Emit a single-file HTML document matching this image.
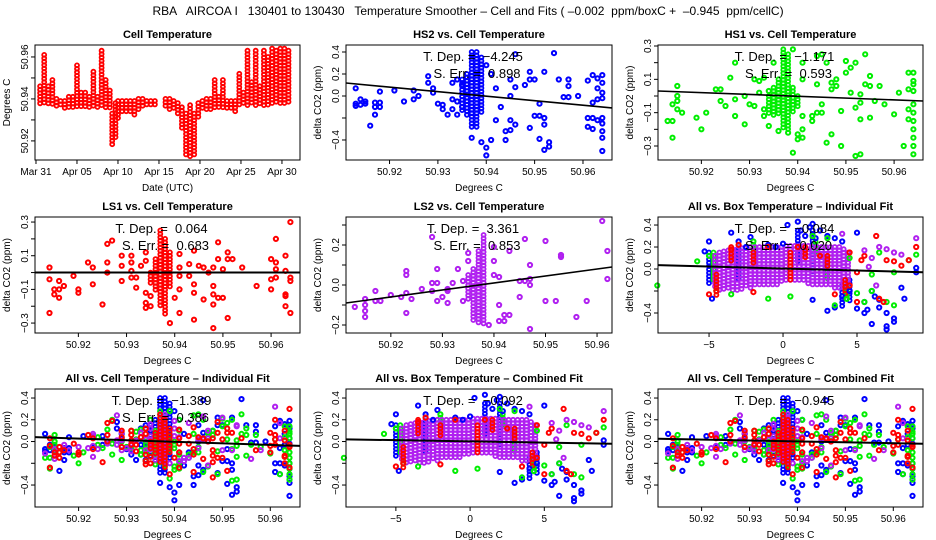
<!DOCTYPE html>
<html><head><meta charset="utf-8"><title>RBA AIRCOA Temperature Smoother</title>
<style>
html,body{margin:0;padding:0;background:#fff;}
svg{display:block;font-family:"Liberation Sans",Arial,sans-serif;}
</style></head>
<body>
<svg id="chart" width="936" height="540" viewBox="0 0 936 540" xmlns="http://www.w3.org/2000/svg">
<rect x="0" y="0" width="936" height="540" fill="#fff"/>
<text x="468" y="15" font-size="12" text-anchor="middle" style="white-space:pre" xml:space="preserve">RBA   AIRCOA I   130401 to 130430   Temperature Smoother – Cell and Fits ( –0.002  ppm/boxC +  –0.945  ppm/cellC)</text>
</svg>
<script>
// ---------- data ----------
const tsDay=[0.5,1.0,1.5,2.0,2.5,3.0,3.5,4.0,4.5,5.0,5.5,6.0,6.5,7.0,7.5,8.0,8.5,9.0,9.3,9.7,10.0,10.5,11.0,11.5,12.0,12.5,13.0,13.5,14.0,14.5,15.8,16.3,16.8,17.3,17.8,18.3,18.8,19.3,19.8,20.3,20.8,21.3,21.8,22.3,22.8,23.3,23.8,24.3,24.8,25.3,25.8,26.3,26.8,27.3,27.8,28.3,28.8,29.3,29.8,30.3,30.8];
const tsLow=[50.937,50.937,50.937,50.937,50.936,50.936,50.935,50.936,50.936,50.936,50.936,50.936,50.936,50.936,50.936,50.937,50.936,50.935,50.918,50.921,50.930,50.933,50.934,50.933,50.931,50.934,50.936,50.936,50.936,50.936,50.936,50.935,50.935,50.933,50.926,50.913,50.912,50.912,50.930,50.935,50.935,50.935,50.935,50.936,50.936,50.935,50.935,50.934,50.936,50.937,50.937,50.937,50.937,50.937,50.937,50.937,50.938,50.938,50.937,50.937,50.938];
const tsHigh=[50.946,50.961,50.946,50.949,50.940,50.939,50.939,50.941,50.941,50.956,50.943,50.943,50.941,50.953,50.941,50.963,50.949,50.944,50.933,50.938,50.939,50.939,50.939,50.939,50.939,50.940,50.940,50.939,50.939,50.939,50.940,50.940,50.939,50.938,50.936,50.933,50.937,50.933,50.938,50.939,50.940,50.940,50.949,50.941,50.949,50.939,50.939,50.939,50.952,50.943,50.963,50.948,50.963,50.946,50.963,50.960,50.964,50.963,50.964,50.964,50.963];
const tsDateTicks=["Mar 31","Apr 05","Apr 10","Apr 15","Apr 20","Apr 25","Apr 30"];

const hs2T=[50.913,50.913,50.913,50.914,50.914,50.915,50.915,50.916,50.917,50.917,50.917,50.918,50.918,50.918,50.921,50.923,50.925,50.925,50.926,50.928,50.928,50.929,50.929,50.930,50.931,50.931,50.932,50.933,50.933,50.933,50.934,50.934,50.934,50.935,50.935,50.937,50.939,50.940,50.940,50.940,50.941,50.941,50.942,50.942,50.943,50.944,50.944,50.945,50.945,50.945,50.945,50.946,50.946,50.946,50.948,50.949,50.949,50.949,50.950,50.950,50.951,50.951,50.951,50.952,50.952,50.952,50.952,50.953,50.953,50.954,50.955,50.956,50.957,50.957,50.957,50.959,50.961,50.961,50.961,50.962,50.962,50.962,50.962,50.963,50.963,50.963,50.963,50.964,50.964,50.964,50.964,50.964,50.964,50.964,50.964,50.964];
const hs2Y=[0.07,-0.09,-0.07,-0.08,-0.03,-0.05,-0.07,-0.27,-0.10,-0.17,-0.06,-0.06,-0.10,0.04,0.05,-0.05,0.05,-0.03,0.00,0.18,0.12,0.03,0.07,-0.07,-0.08,-0.12,-0.17,-0.12,-0.03,0.12,0.15,-0.05,-0.17,0.10,-0.10,-0.38,-0.42,-0.47,-0.54,0.28,-0.40,0.20,0.07,-0.22,-0.10,-0.32,-0.40,0.00,0.15,-0.22,-0.31,0.38,0.08,-0.26,0.10,0.22,0.15,-0.29,0.15,-0.18,-0.07,-0.18,-0.39,-0.20,-0.26,0.22,-0.49,-0.42,-0.46,0.39,0.15,-0.01,0.15,0.09,-0.01,0.00,0.14,-0.20,-0.28,0.19,-0.06,-0.20,-0.30,0.16,0.07,-0.03,-0.22,0.19,0.12,0.03,-0.02,-0.20,-0.25,-0.32,-0.38,-0.50];
const hs2ColT=[50.935,50.936,50.937,50.938,50.939];
const hs2ColLo=[-0.15,-0.20,-0.30,-0.30,-0.15];
const hs2ColHi=[0.15,0.20,0.40,0.40,0.35];

const hs1T=[50.913,50.914,50.914,50.914,50.915,50.915,50.915,50.915,50.916,50.919,50.920,50.921,50.923,50.924,50.924,50.925,50.926,50.927,50.927,50.927,50.929,50.929,50.930,50.931,50.931,50.932,50.932,50.933,50.933,50.933,50.934,50.934,50.935,50.936,50.938,50.939,50.939,50.940,50.940,50.941,50.941,50.941,50.941,50.941,50.943,50.943,50.944,50.944,50.944,50.945,50.945,50.945,50.946,50.946,50.947,50.947,50.947,50.948,50.948,50.949,50.949,50.950,50.950,50.951,50.951,50.952,50.952,50.952,50.953,50.953,50.953,50.953,50.954,50.954,50.955,50.955,50.955,50.956,50.957,50.958,50.960,50.961,50.962,50.963,50.963,50.963,50.963,50.964,50.964,50.964,50.964,50.964,50.964,50.964,50.964,50.964,50.964,50.964];
const hs1Y=[-0.15,-0.15,-0.25,-0.05,0.06,0.00,-0.03,-0.08,-0.10,-0.13,-0.20,-0.10,0.04,0.04,-0.03,-0.06,0.11,0.20,-0.02,-0.12,-0.17,0.00,-0.05,0.10,-0.06,0.09,0.02,0.11,-0.08,-0.12,0.03,-0.18,0.20,-0.21,-0.22,-0.34,0.28,-0.23,-0.26,0.20,0.10,-0.20,-0.25,-0.12,-0.12,-0.15,0.24,0.07,-0.10,0.25,-0.10,-0.05,0.20,-0.28,0.08,0.04,-0.23,0.10,0.06,-0.09,-0.30,0.21,0.14,0.17,0.02,0.20,-0.07,-0.36,0.01,-0.04,-0.14,-0.35,0.25,0.07,0.12,0.06,-0.13,-0.03,0.06,-0.05,-0.11,0.02,-0.30,0.14,0.04,-0.14,-0.08,0.14,0.09,0.07,0.03,-0.05,-0.10,-0.15,-0.20,-0.25,-0.30,-0.35];
const hs1ColT=[50.934,50.935,50.936,50.937,50.938,50.939,50.940];
const hs1ColLo=[-0.12,-0.13,-0.12,-0.20,-0.20,-0.10,-0.08];
const hs1ColHi=[0.00,0.05,0.10,0.28,0.25,0.05,0.00];

const ls1T=[50.914,50.914,50.914,50.915,50.915,50.916,50.916,50.916,50.917,50.919,50.920,50.920,50.922,50.923,50.923,50.925,50.926,50.926,50.926,50.927,50.929,50.929,50.929,50.931,50.931,50.931,50.931,50.932,50.932,50.933,50.934,50.934,50.934,50.934,50.934,50.935,50.935,50.939,50.940,50.941,50.941,50.941,50.941,50.941,50.943,50.943,50.944,50.944,50.944,50.944,50.945,50.946,50.946,50.947,50.948,50.948,50.948,50.948,50.948,50.949,50.949,50.949,50.950,50.950,50.951,50.951,50.951,50.952,50.954,50.957,50.960,50.960,50.960,50.961,50.961,50.961,50.961,50.963,50.963,50.963,50.963,50.963,50.964,50.964,50.964,50.964];
const ls1Y=[0.03,-0.04,-0.24,-0.10,-0.13,-0.05,-0.10,-0.15,-0.08,-0.02,-0.10,-0.12,0.06,0.03,-0.07,-0.19,0.17,0.06,0.00,0.19,0.10,0.04,-0.05,0.10,0.06,0.01,-0.03,-0.03,-0.09,0.04,0.12,0.07,-0.12,-0.18,-0.21,-0.14,-0.20,-0.30,-0.15,0.11,0.03,-0.02,-0.10,-0.24,0.05,-0.02,0.13,-0.07,-0.12,-0.28,0.04,0.03,-0.16,0.00,0.03,-0.08,-0.13,-0.19,-0.33,0.18,0.08,-0.15,0.02,-0.15,0.12,0.08,-0.27,0.08,0.03,-0.08,0.08,-0.04,-0.10,0.20,0.06,0.02,-0.03,0.10,0.01,-0.13,-0.14,-0.20,0.30,-0.03,-0.05,-0.24];
const ls1ColT=[50.935,50.936,50.937,50.938,50.939];
const ls1ColLo=[-0.08,-0.12,-0.20,-0.25,-0.10];
const ls1ColHi=[0.00,0.08,0.25,0.20,0.12];

const ls2T=[50.913,50.915,50.915,50.915,50.915,50.917,50.917,50.918,50.920,50.922,50.923,50.923,50.923,50.923,50.924,50.926,50.928,50.928,50.928,50.929,50.929,50.929,50.930,50.931,50.931,50.931,50.932,50.933,50.934,50.934,50.935,50.935,50.939,50.940,50.940,50.940,50.941,50.941,50.941,50.942,50.942,50.943,50.943,50.945,50.945,50.946,50.946,50.947,50.947,50.947,50.947,50.950,50.950,50.952,50.953,50.953,50.956,50.958,50.961,50.962,50.962];
const ls2Y=[-0.11,-0.07,-0.10,-0.13,-0.16,-0.03,-0.08,-0.08,-0.05,-0.06,0.07,0.05,-0.04,-0.14,-0.07,-0.02,0.24,0.01,-0.03,0.08,0.01,-0.08,-0.06,-0.02,-0.03,-0.09,0.01,0.08,0.02,-0.08,0.16,0.12,-0.20,0.19,0.12,0.05,0.04,-0.18,-0.10,-0.15,-0.18,0.17,-0.15,0.02,-0.06,0.23,0.02,0.10,0.03,0.00,-0.22,0.22,-0.08,-0.08,0.15,0.14,-0.16,-0.08,0.32,0.17,0.03];
const ls2ColT=[50.935,50.936,50.937,50.938];
const ls2ColLo=[-0.08,-0.18,-0.20,-0.20];
const ls2ColHi=[0.05,0.08,0.17,0.25];

const boxBlueX=[-5.3,-5.0,-4.8,-3.5,-3.0,-2.5,-2.2,-1.0,-0.5,0.0,0.3,1.0,1.2,1.5,1.8,2.0,2.2,2.5,3.0,3.5,4.0,5.0,2.0,3.5,4.0,4.5,5.0,5.5,5.7,6.0,6.0,6.2,6.5,6.5,7.0,7.0,7.0,7.5,7.5,8.0,8.2,9.0,9.0,5.5,3.0];
const boxBlueY=[0.16,0.25,-0.27,0.33,0.25,0.20,0.29,0.22,0.20,0.23,0.40,0.43,0.35,0.30,0.38,0.41,0.28,0.35,0.30,0.28,0.25,0.33,-0.28,-0.35,-0.25,-0.20,-0.36,-0.30,-0.37,-0.50,-0.20,-0.25,-0.35,-0.28,-0.40,-0.52,-0.55,-0.45,-0.48,-0.17,-0.27,-0.03,0.01,-0.40,-0.38];
const boxGreenX=[-8.5,-5.8,-5.0,-4.5,-3.5,-2.0,-1.0,0.5,2.0,3.0,3.5,4.3,5.0,5.5,6.0,6.5,7.0,7.5,7.5,8.5,9.0,6.0,4.5];
const boxGreenY=[-0.15,0.07,0.12,-0.20,-0.23,0.25,-0.27,-0.25,0.30,0.28,-0.33,-0.27,-0.22,-0.30,-0.20,0.15,-0.30,-0.33,-0.03,0.08,0.13,-0.05,0.10];
const boxRedX=[-5.0,-4.5,-3.5,-3.0,-2.0,-1.0,1.0,2.5,3.5,4.5,5.0,5.3,5.5,6.3,6.5,6.8,7.0,7.5,8.0,8.5,9.0,5.0,4.5];
const boxRedY=[-0.23,-0.20,0.18,0.22,-0.21,0.20,0.20,0.12,-0.23,0.15,-0.03,0.08,0.12,0.30,-0.27,-0.30,0.08,0.07,0.03,0.08,0.20,-0.30,-0.15];
const boxPurpleX=[5.5,6.0,6.5,7.0,7.5,8.0,9.0,5.8,4.0,6.3];
const boxPurpleY=[0.17,0.10,0.20,0.18,0.15,0.13,0.28,0.02,0.32,-0.15];
const boxBlueColX=[-5.0,-3.0,1.0,2.0,4.0,4.5];
const boxBlueColLo=[-0.15,-0.12,0.05,-0.05,-0.35,-0.30];
const boxBlueColHi=[0.15,0.25,0.35,0.35,-0.15,-0.10];
const boxGreenColX=[-4.7,-2.0,2.2,3.0,4.3];
const boxGreenColLo=[-0.10,0.10,0.15,-0.10,-0.30];
const boxGreenColHi=[0.15,0.22,0.25,0.10,-0.15];
const boxRedColX=[-4.5,-3.5,-2.0,0.5,1.5,3.0,4.2];
const boxRedColLo=[-0.25,0.05,0.05,-0.10,0.10,0.00,-0.25];
const boxRedColHi=[-0.05,0.20,0.15,0.15,0.20,0.12,-0.10];
const boxPurpleColX=[-4.6,-4.3,-4.0,-3.7,-3.4,-3.1,-2.8,-2.5,-2.2,-1.9,-1.6,-1.3,-1.0,-0.7,-0.4,-0.1,0.2,0.5,0.8,1.1,1.4,1.7,2.0,2.3,2.6,2.9,3.2,3.5,3.8,4.1,4.4];
const boxPurpleColLo=[-0.18,-0.20,-0.20,-0.20,-0.20,-0.20,-0.19,-0.18,-0.18,-0.17,-0.17,-0.16,-0.15,-0.15,-0.14,-0.13,-0.12,-0.12,-0.12,-0.12,-0.12,-0.14,-0.15,-0.15,-0.15,-0.16,-0.17,-0.18,-0.18,-0.17,-0.15];
const boxPurpleColHi=[0.12,0.15,0.16,0.17,0.18,0.18,0.19,0.19,0.20,0.20,0.20,0.20,0.20,0.20,0.20,0.20,0.21,0.21,0.21,0.21,0.21,0.21,0.20,0.20,0.20,0.20,0.20,0.20,0.20,0.18,0.15];

const fitHs2=[0.118,-0.109];
const fitHs1=[0.03,-0.03];
const fitLs1=[0.0,0.0];
const fitLs2=[-0.09,0.09];
const fitBoxInd=[0.035,-0.03];
const fitCellInd=[0.04,-0.04];
const fitBoxComb=[0.02,-0.02];
const fitCellComb=[0.025,-0.02];

// ---------- rendering ----------
const svg=document.getElementById('chart');
const NS='http://www.w3.org/2000/svg';
const COLS=[[35,300],[346,612],[658,923]];
const ROWS=[[45,160],[217,333],[389,507]];
const BLUE='#0000ff',GREEN='#00ee00',RED='#ff0000',PURPLE='#b020f0';

function mk(tag,attrs,parent){
  const e=document.createElementNS(NS,tag);
  for(const k in attrs)e.setAttribute(k,attrs[k]);
  (parent||svg).appendChild(e);
  return e;
}
function makePanel(ci,ri,xd,yd,name){
  const [x0,x1]=COLS[ci],[y0,y1]=ROWS[ri];
  const g=mk('g',{});
  
  
  return {g,x0,x1,y0,y1,
    sx:v=>x0+(v-xd[0])/(xd[1]-xd[0])*(x1-x0),
    sy:v=>y1-(v-yd[0])/(yd[1]-yd[0])*(y1-y0)};
}
function frame(p,title,xlab,ylab){
  const b=mk('rect',{x:p.x0,y:p.y0,width:p.x1-p.x0,height:p.y1-p.y0,fill:'none',stroke:'#000','stroke-width':1},p.g);
  
  
  const t=mk('text',{x:(p.x0+p.x1)/2,y:p.y0-7,'font-size':11,'font-weight':'bold','text-anchor':'middle'},p.g);
  t.textContent=title;
  
  
  const xl=mk('text',{x:(p.x0+p.x1)/2,y:p.y1+31,'font-size':10,'text-anchor':'middle'},p.g);
  xl.textContent=xlab;
  
  
  const cy=(p.y0+p.y1)/2, lx=p.x0-25;
  const yl=mk('text',{x:lx,y:cy,'font-size':10,'text-anchor':'middle',transform:`rotate(-90 ${lx} ${cy})`},p.g);
  yl.textContent=ylab;
  
  
}
function xTicks(p,vals,labels){
  vals.forEach((v,i)=>{
    const x=p.sx(v);
    mk('line',{x1:x,x2:x,y1:p.y1,y2:p.y1+4,stroke:'#000'},p.g);
    if(labels[i]!==''){
      const t=mk('text',{x:x,y:p.y1+15,'font-size':10,'text-anchor':'middle'},p.g);
      t.textContent=labels[i];
      
      
    }
  });
}
function yTicks(p,vals,labels){
  vals.forEach((v,i)=>{
    const y=p.sy(v);
    mk('line',{x1:p.x0-4,x2:p.x0,y1:y,y2:y,stroke:'#000'},p.g);
    if(labels[i]!==''){
      const lx=p.x0-7;
      const t=mk('text',{x:lx,y:y,'font-size':10,'text-anchor':'middle',transform:`rotate(-90 ${lx} ${y})`},p.g);
      t.textContent=labels[i];
      
      
    }
  });
}
function pts(p,xs,ys,color,name){
  const g=mk('g',{fill:'none',stroke:color,'stroke-width':2},p.g);
  
  
  xs.forEach((x,i)=>{
    const c=mk('circle',{cx:p.sx(x).toFixed(1),cy:p.sy(ys[i]).toFixed(1),r:2.1},g);
    
    
  });
}
function cols(p,xs,lo,hi,color,name){
  const g=mk('g',{fill:'none',stroke:color,'stroke-width':1.8},p.g);
  
  
  xs.forEach((x,i)=>{
    const px=p.sx(x),ya=p.sy(hi[i]),yb=p.sy(lo[i]);
    for(let y=ya;y<=yb+0.1;y+=3.4){
      const c=mk('circle',{cx:px.toFixed(1),cy:y.toFixed(1),r:2},g);
      
      
    }
  });
}
function fit(p,f,xd,w){
  const l=mk('line',{x1:p.x0,y1:p.sy(f[0]),x2:p.x1,y2:p.sy(f[1]),stroke:'#000','stroke-width':w||1.6},p.g);
  
  
}
function annot(p,tdep,serr){
  const cx=(p.x0+p.x1)/2-6;
  const t=mk('text',{x:cx,y:p.y0+16,'font-size':13,'text-anchor':'middle',style:'white-space:pre'},p.g);
  t.textContent='T. Dep. =  '+tdep;
  
  
  if(serr){
    const s=mk('text',{x:cx+4,y:p.y0+33,'font-size':13,'text-anchor':'middle',style:'white-space:pre'},p.g);
    s.textContent='S. Err. =  '+serr;
    
    
  }
}
const cellTicks=[50.92,50.93,50.94,50.95,50.96];
const cellLabels=['50.92','50.93','50.94','50.95','50.96'];
const ppmTicks=[-0.4,-0.2,0,0.2,0.4];
const ppmLabels=['−0.4','','0.0','0.2','0.4'];
const ppm3Ticks=[-0.3,-0.2,-0.1,0,0.1,0.2,0.3];
const ppm3Labels=['−0.3','','−0.1','','0.1','','0.3'];
const CELLX=[50.911,50.966];
const YD1=[-0.582,0.4636];

{const p=makePanel(0,0,[-0.12,32.2],[50.9109,50.9657],'panel-cell-temperature');
 cols(p,tsDay,tsLow,tsHigh,RED,'series-cell-temperature');
 frame(p,'Cell Temperature','Date (UTC)','Degrees C');
 xTicks(p,[0,5,10,15,20,25,30],tsDateTicks);
 yTicks(p,[50.92,50.93,50.94,50.95,50.96],['50.92','','50.94','','50.96']);}
{const p=makePanel(1,0,CELLX,YD1,'panel-hs2');
 pts(p,hs2T,hs2Y,BLUE,'series-hs2');cols(p,hs2ColT,hs2ColLo,hs2ColHi,BLUE,'series-hs2-dense');
 fit(p,fitHs2);frame(p,'HS2 vs. Cell Temperature','Degrees C','delta CO2 (ppm)');
 xTicks(p,cellTicks,cellLabels);yTicks(p,ppmTicks,ppmLabels);annot(p,'−4.245','0.898');}
{const p=makePanel(2,0,CELLX,[-0.384,0.306],'panel-hs1');
 pts(p,hs1T,hs1Y,GREEN,'series-hs1');cols(p,hs1ColT,hs1ColLo,hs1ColHi,GREEN,'series-hs1-dense');
 fit(p,fitHs1);frame(p,'HS1 vs. Cell Temperature','Degrees C','delta CO2 (ppm)');
 xTicks(p,cellTicks,cellLabels);yTicks(p,ppm3Ticks,ppm3Labels);annot(p,'−1.171','0.593');}
{const p=makePanel(0,1,CELLX,[-0.359,0.330],'panel-ls1');
 pts(p,ls1T,ls1Y,RED,'series-ls1');cols(p,ls1ColT,ls1ColLo,ls1ColHi,RED,'series-ls1-dense');
 fit(p,fitLs1,null,2);frame(p,'LS1 vs. Cell Temperature','Degrees C','delta CO2 (ppm)');
 xTicks(p,cellTicks,cellLabels);yTicks(p,ppm3Ticks,ppm3Labels);annot(p,'0.064','0.683');}
{const p=makePanel(1,1,[50.9113,50.9629],[-0.24,0.34],'panel-ls2');
 pts(p,ls2T,ls2Y,PURPLE,'series-ls2');cols(p,ls2ColT,ls2ColLo,ls2ColHi,PURPLE,'series-ls2-dense');
 fit(p,fitLs2);frame(p,'LS2 vs. Cell Temperature','Degrees C','delta CO2 (ppm)');
 xTicks(p,cellTicks,cellLabels);yTicks(p,[-0.2,-0.1,0,0.1,0.2,0.3],['−0.2','','0.0','','0.2','']);annot(p,'3.361','0.853');}
function boxPanel(ci,ri,xd,yd,name,title,f,tdep,serr){
  const p=makePanel(ci,ri,xd,yd,name);
  cols(p,boxBlueColX,boxBlueColLo,boxBlueColHi,BLUE,'series-hs2-dense');
  cols(p,boxGreenColX,boxGreenColLo,boxGreenColHi,GREEN,'series-hs1-dense');
  cols(p,boxPurpleColX,boxPurpleColLo,boxPurpleColHi,PURPLE,'series-ls2-dense');
  cols(p,boxRedColX,boxRedColLo,boxRedColHi,RED,'series-ls1-dense');
  pts(p,boxBlueX,boxBlueY,BLUE,'series-hs2');
  pts(p,boxGreenX,boxGreenY,GREEN,'series-hs1');
  pts(p,boxRedX,boxRedY,RED,'series-ls1');
  pts(p,boxPurpleX,boxPurpleY,PURPLE,'series-ls2');
  fit(p,f,null,2);frame(p,title,'Degrees C','delta CO2 (ppm)');
  xTicks(p,[-5,0,5],['−5','0','5']);yTicks(p,ppmTicks,ppmLabels);annot(p,tdep,serr);
}
function cellPanel(ci,ri,name,title,f,tdep,serr){
  const p=makePanel(ci,ri,[50.9109,50.9662],[-0.602,0.483],name);
  pts(p,hs2T,hs2Y,BLUE,'series-hs2');cols(p,hs2ColT,hs2ColLo,hs2ColHi,BLUE,'series-hs2-dense');
  pts(p,hs1T,hs1Y,GREEN,'series-hs1');cols(p,hs1ColT,hs1ColLo,hs1ColHi,GREEN,'series-hs1-dense');
  pts(p,ls2T,ls2Y,PURPLE,'series-ls2');cols(p,ls2ColT,ls2ColLo,ls2ColHi,PURPLE,'series-ls2-dense');
  pts(p,ls1T,ls1Y,RED,'series-ls1');cols(p,ls1ColT,ls1ColLo,ls1ColHi,RED,'series-ls1-dense');
  fit(p,f,null,2);frame(p,title,'Degrees C','delta CO2 (ppm)');
  xTicks(p,cellTicks,cellLabels);yTicks(p,ppmTicks,ppmLabels);annot(p,tdep,serr);
}
boxPanel(2,1,[-8.45,9.46],[-0.582,0.473],'panel-all-box-individual','All vs. Box Temperature – Individual Fit',fitBoxInd,'−0.084','0.020');
cellPanel(0,2,'panel-all-cell-individual','All vs. Cell Temperature – Individual Fit',fitCellInd,'−1.389','0.386');
boxPanel(1,2,[-8.36,9.56],[-0.602,0.483],'panel-all-box-combined','All vs. Box Temperature – Combined Fit',fitBoxComb,'−0.092',null);
cellPanel(2,2,'panel-all-cell-combined','All vs. Cell Temperature – Combined Fit',fitCellComb,'−0.945',null);
</script>
</body></html>
